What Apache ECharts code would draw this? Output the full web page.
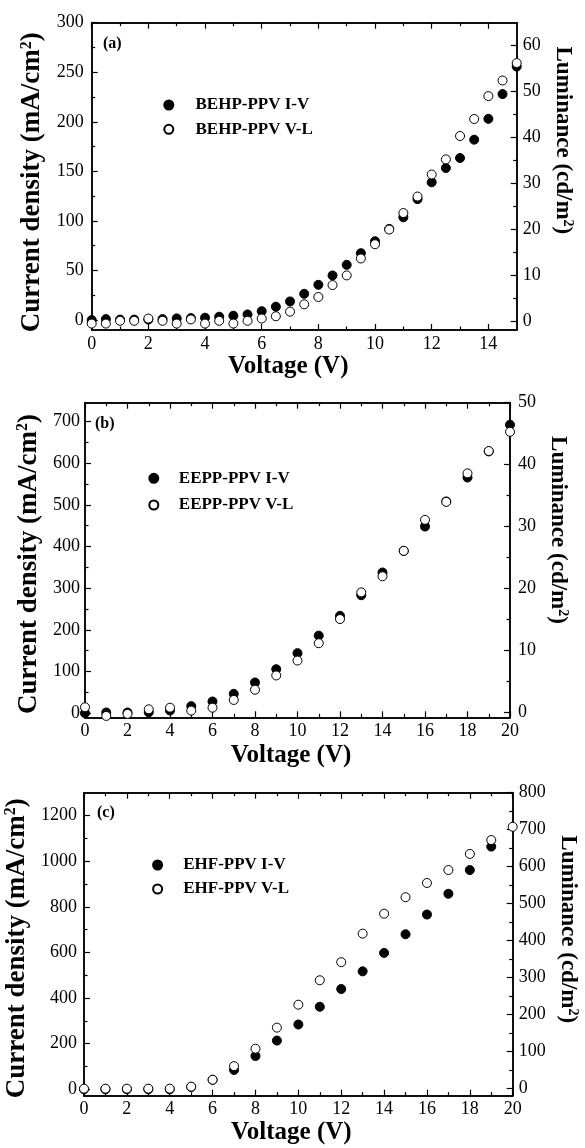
<!DOCTYPE html>
<html>
<head>
<meta charset="utf-8">
<script src="https://cdn.jsdelivr.net/npm/echarts@6/dist/echarts.min.js"></script>
<style>
  html, body { margin: 0; padding: 0; background: #fff; }
  #main { width: 585px; height: 1148px; }
</style>
</head>
<body>
<div id="main"></div>
<script>
// ---- panel (a) BEHP-PPV ----
const aVolt = [0,0.5,1,1.5,2,2.5,3,3.5,4,4.5,5,5.5,6,6.5,7,7.5,8,8.5,9,9.5,10,10.5,11,11.5,12,12.5,13,13.5,14,14.5,15];
const aCurrent = [0,1,0.5,0.5,0.5,1,1.7,2,2.4,3.4,4.4,5.7,9,13.5,18.8,26.5,35.6,45,55.7,67.5,79.5,92,103.7,122,139,153.4,163.5,182,203,228,255.7];
const aLum = [-0.6,-0.6,0,0,0.5,0,-0.6,0.3,-0.6,0,-0.6,0,0.5,1.0,2.0,3.6,5.2,7.8,9.9,13.6,16.7,19.9,23.5,27.1,31.9,35.2,40.3,44.0,49.0,52.4,56.2];
const aXTicks = [0,2,4,6,8,10,12,14];
const aXMinor = [1,3,5,7,9,11,13];
const aLeftTicks = [0,50,100,150,200,250,300];
const aLeftMinor = [25,75,125,175,225,275];
const aRightTicks = [0,10,20,30,40,50,60];
const aRightMinor = [5,15,25,35,45,55];

// ---- panel (b) EEPP-PPV ----
const bVolt = [0,1,2,3,4,5,6,7,8,9,10,11,12,13,14,15,16,17,18,19,20];
const bCurrent = [0,1.5,1.5,2,6.4,16.8,27.9,46.3,73.5,105.5,144,186,233.5,283,337.5,389.5,447.8,508,565.4,628,692];
const bLum = [0.87,-0.53,-0.2,0.54,0.8,0.33,0.8,2.05,3.7,6.0,8.4,11.2,15.1,19.4,22.0,26.1,31.1,34.0,38.6,42.2,45.3];
const bXTicks = [0,2,4,6,8,10,12,14,16,18,20];
const bXMinor = [1,3,5,7,9,11,13,15,17,19];
const bLeftTicks = [0,100,200,300,400,500,600,700];
const bLeftMinor = [50,150,250,350,450,550,650];
const bRightTicks = [0,10,20,30,40,50];
const bRightMinor = [5,15,25,35,45];

// ---- panel (c) EHF-PPV ----
const cVoltIV = [0,1,2,3,4,5,6,7,8,9,10,11,12,13,14,15,16,17,18,19];
const cCurrent = [0,0,0,0,0,10,42,84.8,146,213.6,284,361.8,439.6,517,597.8,679.6,766,857,961,1063.7];
const cVoltVL = [0,1,2,3,4,5,6,7,8,9,10,11,12,13,14,15,16,17,18,19,20];
const cLum = [0,0,0,0,0,5.4,24,61,108,165,227,293,342,419,473,517.5,556,591,634.5,672,708];
const cXTicks = [0,2,4,6,8,10,12,14,16,18,20];
const cXMinor = [1,3,5,7,9,11,13,15,17,19];
const cLeftTicks = [0,200,400,600,800,1000,1200];
const cLeftMinor = [100,300,500,700,900,1100];
const cRightTicks = [0,100,200,300,400,500,600,700,800];
const cRightMinor = [50,150,250,350,450,550,650,750];

const FONT = "'Liberation Serif', 'Times New Roman', serif";

const panels = [
  {grid: {left: 91.7, top: 22.7, width: 425, height: 307.3},
   x: [0, 15], yl: [-10, 300], yr: [-2, 65],
   xt: aXTicks, xm: aXMinor, lt: aLeftTicks, lm: aLeftMinor, rt: aRightTicks, rm: aRightMinor,
   iv: [aVolt, aCurrent], vl: [aVolt, aLum], name: 'BEHP-PPV',
   xGap: 22, xShift: 32, lGap: 43, lShift: 12, lMargin: 8, rGap: 30, rShift: 72, rMargin: 6,
   legend: {left: 163.3, top: 96.5, itemWidth: 43.4, itemGap: 7.3},
   tag: {text: '(a)', left: 103, top: 36}},
  {grid: {left: 85, top: 402.7, width: 425, height: 314.6},
   x: [0, 20], yl: [-10, 745], yr: [-0.75, 50],
   xt: bXTicks, xm: bXMinor, lt: bLeftTicks, lm: bLeftMinor, rt: bRightTicks, rm: bRightMinor,
   iv: [bVolt, bCurrent], vl: [bVolt, bLum], name: 'EEPP-PPV',
   xGap: 26, xShift: 13, lGap: 41, lShift: 8, lMargin: 5, rGap: 30, rShift: 60, rMargin: 8,
   legend: {left: 148.3, top: 469.8, itemWidth: 40, itemGap: 9.7},
   tag: {text: '(b)', left: 95, top: 415.5}},
  {grid: {left: 84, top: 792.7, width: 428.7, height: 303},
   x: [0, 20], yl: [-28, 1300], yr: [-19, 800],
   xt: cXTicks, xm: cXMinor, lt: cLeftTicks, lm: cLeftMinor, rt: cRightTicks, rm: cRightMinor,
   iv: [cVoltIV, cCurrent], vl: [cVoltVL, cLum], name: 'EHF-PPV',
   xGap: 21, xShift: 14, lGap: 41, lShift: 8, lMargin: 7, rGap: 30, rShift: 30, rMargin: 6,
   legend: {left: 152.1, top: 856.5, itemWidth: 41.2, itemGap: 7},
   tag: {text: '(c)', left: 97, top: 804.5}}
];

const lineStyle = {color: '#000', width: 1.5};
const labelStyle = {color: '#000', fontFamily: FONT, fontSize: 18, formatter: function (v) { return String(v); }};
const titleStyle = function (size, pad) {
  return {
    color: '#000', fontFamily: FONT, fontWeight: 'bold', fontSize: size, padding: pad,
    rich: {sup: {color: '#000', fontFamily: FONT, fontWeight: 'bold', fontSize: Math.round(size * 0.6), verticalAlign: 'top'}}
  };
};

function axis(gi, pos, range, ticks, len, extra) {
  return Object.assign({
    type: 'value', gridIndex: gi, position: pos, min: range[0], max: range[1],
    axisLine: {show: true, onZero: false, lineStyle: lineStyle},
    axisTick: {show: true, inside: true, length: len, customValues: ticks, lineStyle: {color: '#000', width: 1.2}},
    axisLabel: {show: false},
    splitLine: {show: false}
  }, extra || {});
}

const xAxis = [], yAxis = [], series = [], legend = [], title = [], grid = [];

panels.forEach(function (p, i) {
  grid.push(Object.assign({outerBoundsMode: 'none', containLabel: false}, p.grid));

  xAxis.push(axis(i, 'bottom', p.x, p.xt, 6, {
    axisLabel: Object.assign({show: true, customValues: p.xt, margin: 5}, labelStyle),
    name: 'Voltage (V)', nameLocation: 'middle', nameGap: p.xGap,
    nameTextStyle: titleStyle(25, [0, p.xShift, 0, 0])
  }));
  xAxis.push(axis(i, 'bottom', p.x, p.xm, 3.5));
  xAxis.push(axis(i, 'top', p.x, p.xt, 6));
  xAxis.push(axis(i, 'top', p.x, p.xm, 3.5));

  yAxis.push(axis(i, 'left', p.yl, p.lt, 6, {
    axisLabel: Object.assign({show: true, customValues: p.lt, margin: p.lMargin}, labelStyle),
    name: 'Current density (mA/cm{sup|2})', nameLocation: 'middle', nameRotate: 90,
    nameGap: p.lGap, nameTextStyle: titleStyle(27, [0, p.lShift, 0, 0])
  }));
  yAxis.push(axis(i, 'left', p.yl, p.lm, 3.5));
  yAxis.push(axis(i, 'right', p.yr, p.rt, 6, {
    axisLabel: Object.assign({show: true, customValues: p.rt, margin: p.rMargin}, labelStyle),
    name: 'Luminance (cd/m{sup|2})', nameLocation: 'middle', nameRotate: -90,
    nameGap: p.rGap, nameTextStyle: titleStyle(23, [0, p.rShift, 0, 0])
  }));
  yAxis.push(axis(i, 'right', p.yr, p.rm, 3.5));

  const ivName = p.name + ' I-V';
  const vlName = p.name + ' V-L';
  series.push({
    name: ivName, type: 'scatter', xAxisIndex: 4 * i, yAxisIndex: 4 * i,
    data: p.iv[0].map(function (v, k) { return [v, p.iv[1][k]]; }),
    symbol: 'circle', symbolSize: 9, clip: false,
    itemStyle: {color: '#000', borderColor: '#000', borderWidth: 1, opacity: 1}
  });
  series.push({
    name: vlName, type: 'scatter', xAxisIndex: 4 * i, yAxisIndex: 4 * i + 2,
    data: p.vl[0].map(function (v, k) { return [v, p.vl[1][k]]; }),
    symbol: 'circle', symbolSize: 9, clip: false,
    itemStyle: {color: '#fff', borderColor: '#000', borderWidth: 1, opacity: 1}
  });

  legend.push({
    orient: 'vertical', left: p.legend.left, top: p.legend.top, padding: 0,
    itemWidth: p.legend.itemWidth, itemHeight: 9, itemGap: p.legend.itemGap,
    selectedMode: false, icon: 'circle',
    data: [ivName, vlName],
    textStyle: {color: '#000', fontFamily: FONT, fontWeight: 'bold', fontSize: 17}
  });

  title.push({
    text: p.tag.text, left: p.tag.left, top: p.tag.top, padding: 0,
    textStyle: {color: '#000', fontFamily: FONT, fontWeight: 'bold', fontSize: 16}
  });
});

const myChart = echarts.init(document.getElementById('main'), null, {renderer: 'canvas'});
myChart.setOption({
  backgroundColor: '#fff',
  animation: false,
  title: title,
  grid: grid,
  legend: legend,
  xAxis: xAxis,
  yAxis: yAxis,
  series: series
});
</script>
</body>
</html>
